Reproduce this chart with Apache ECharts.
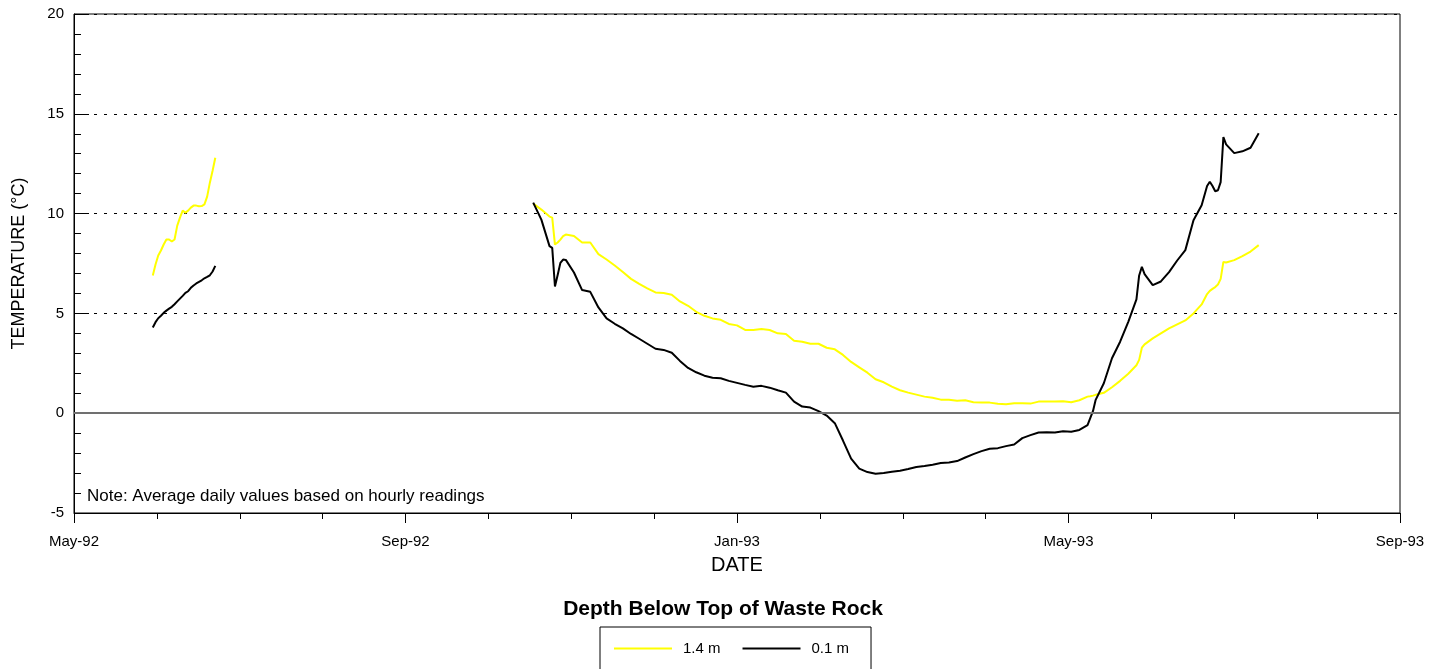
<!DOCTYPE html>
<html><head><meta charset="utf-8">
<script src="https://cdn.jsdelivr.net/npm/echarts@6/dist/echarts.min.js"></script>
<style>html,body{margin:0;padding:0;background:#fff}#c{width:1446px;height:669px}</style>
</head><body><div id="c"></div>
<script>
// ---- data ----
const datesEarly = ['1992-05-30','1992-05-31','1992-06-01','1992-06-02','1992-06-03','1992-06-04','1992-06-05','1992-06-06',
  '1992-06-07','1992-06-08','1992-06-09','1992-06-10','1992-06-11','1992-06-12','1992-06-13','1992-06-14',
  '1992-06-15','1992-06-16','1992-06-17','1992-06-18','1992-06-19','1992-06-20','1992-06-21','1992-06-22'];
const depth14Early = [6.9,7.45,7.9,8.15,8.45,8.7,8.7,8.6,8.7,9.4,9.8,10.15,10.05,10.15,10.3,10.4,10.4,10.37,10.38,10.46,10.85,11.55,12.15,12.8];
const depth01Early = [4.29,4.56,4.76,4.88,5.03,5.14,5.24,5.33,5.46,5.6,5.74,5.88,6.03,6.11,6.28,6.4,6.5,6.58,6.66,6.76,6.83,6.91,7.1,7.38];

const datesLate = [
  '1992-10-17','1992-10-20','1992-10-23','1992-10-24','1992-10-25','1992-10-26','1992-10-27','1992-10-28','1992-10-29',
  '1992-11-01','1992-11-04','1992-11-07','1992-11-10','1992-11-13','1992-11-16','1992-11-19','1992-11-22','1992-11-25','1992-11-28',
  '1992-12-01','1992-12-04','1992-12-07','1992-12-10','1992-12-13','1992-12-16','1992-12-19','1992-12-22','1992-12-25','1992-12-28','1992-12-31',
  '1993-01-03','1993-01-06','1993-01-09','1993-01-12','1993-01-15','1993-01-18','1993-01-21','1993-01-24','1993-01-27','1993-01-30',
  '1993-02-02','1993-02-05','1993-02-08','1993-02-11','1993-02-14','1993-02-17','1993-02-20','1993-02-23','1993-02-26',
  '1993-03-01','1993-03-04','1993-03-07','1993-03-10','1993-03-13','1993-03-16','1993-03-19','1993-03-22','1993-03-25','1993-03-28','1993-03-31',
  '1993-04-03','1993-04-06','1993-04-09','1993-04-12','1993-04-15','1993-04-18','1993-04-21','1993-04-24','1993-04-27','1993-04-30',
  '1993-05-03','1993-05-06','1993-05-09','1993-05-10','1993-05-11','1993-05-12','1993-05-15','1993-05-18','1993-05-21','1993-05-24','1993-05-27','1993-05-28','1993-05-29','1993-05-30',
  '1993-06-02','1993-06-05','1993-06-08','1993-06-11','1993-06-14','1993-06-17','1993-06-20','1993-06-22','1993-06-23','1993-06-24','1993-06-25','1993-06-26','1993-06-27','1993-06-28','1993-06-29',
  '1993-07-02','1993-07-05','1993-07-08','1993-07-11'];
const depth14Late = [
  10.5,10.2,9.85,9.8,8.45,8.55,8.7,8.87,8.95,
  8.88,8.55,8.55,7.97,7.7,7.4,7.07,6.73,6.48,6.25,
  6.05,6.02,5.93,5.6,5.38,5.08,4.88,4.75,4.68,4.47,4.4,
  4.17,4.17,4.22,4.17,4.0,3.97,3.63,3.58,3.48,3.48,
  3.28,3.2,2.92,2.57,2.3,2.03,1.7,1.55,1.33,
  1.15,1.03,0.93,0.83,0.77,0.68,0.67,0.62,0.65,0.55,0.53,
  0.53,0.47,0.45,0.5,0.5,0.48,0.58,0.58,0.58,0.6,
  0.55,0.65,0.83,0.85,0.88,0.92,1.02,1.3,1.62,1.98,2.4,2.67,3.28,3.45,
  3.75,4.0,4.25,4.45,4.65,5.0,5.45,5.97,6.13,6.23,6.32,6.45,6.73,7.58,7.55,
  7.67,7.87,8.1,8.42];
const depth01Late = [
  10.55,9.7,8.37,8.28,6.35,6.92,7.53,7.7,7.68,
  7.05,6.17,6.08,5.3,4.75,4.48,4.25,3.97,3.73,3.48,
  3.23,3.17,3.03,2.62,2.27,2.05,1.88,1.78,1.75,1.62,1.52,
  1.42,1.33,1.37,1.28,1.15,1.03,0.58,0.33,0.28,0.1,
  -0.12,-0.5,-1.37,-2.28,-2.78,-2.95,-3.03,-3.0,-2.93,
  -2.88,-2.8,-2.7,-2.65,-2.58,-2.5,-2.47,-2.4,-2.22,-2.05,-1.9,
  -1.78,-1.75,-1.65,-1.57,-1.25,-1.1,-0.97,-0.95,-0.97,-0.9,
  -0.93,-0.84,-0.6,-0.25,0.1,0.67,1.5,2.75,3.58,4.58,5.7,6.9,7.33,6.97,
  6.42,6.6,7.07,7.65,8.17,9.67,10.42,11.38,11.6,11.38,11.12,11.17,11.58,13.83,13.47,
  13.03,13.12,13.3,14.03];
const gapDate = '1992-08-15';
const seriesNames = ['1.4 m', '0.1 m'];
const axisStart = '1992-05-01';
const axisEnd = '1993-09-01';
const xTickLabels = ['May-92', 'Sep-92', 'Jan-93', 'May-93', 'Sep-93'];
const minorPerMajor = 4;
const yMin = -5, yMax = 20, yStep = 5;

// ---- build ----
const FONT = 'Liberation Sans, Arial, Helvetica, sans-serif';
const ts = s => echarts.number.parseDate(s).getTime();
const t0 = ts(axisStart);
const t1 = ts(axisEnd);
const nMajor = xTickLabels.length - 1;
const majorStep = (t1 - t0) / nMajor;
const majorVals = xTickLabels.map((_, i) => t0 + i * majorStep);
const minorVals = [];
for (let i = 0; i <= nMajor * minorPerMajor; i++) minorVals.push(t0 + i * majorStep / minorPerMajor);
const yMajorVals = [];
for (let v = yMin; v <= yMax; v += yStep) yMajorVals.push(v);

function build(early, late) {
  const out = datesEarly.map((d, i) => [ts(d), early[i]]);
  out.push([ts(gapDate), '-']);
  return out.concat(datesLate.map((d, i) => [ts(d), late[i]]));
}

const chart = echarts.init(document.getElementById('c'), null, {renderer: 'canvas'});
chart.setOption({
  animation: false,
  backgroundColor: '#fff',
  textStyle: {fontFamily: FONT},
  title: {
    text: 'Depth Below Top of Waste Rock', left: 'center', top: 599, padding: 0,
    textStyle: {fontFamily: FONT, fontSize: 21, fontWeight: 'bold', color: '#000'}
  },
  legend: {
    data: seriesNames, left: 600, top: 627, orient: 'horizontal',
    padding: [14, 22, 24, 14], borderColor: '#000', borderWidth: 1,
    itemWidth: 58, itemHeight: 2, itemGap: 22,
    icon: 'path://M0,0H58V2H0Z',
    textStyle: {fontFamily: FONT, fontSize: 15, color: '#000', padding: [0, 0, 0, 6]}
  },
  graphic: [{
    type: 'text', left: 87, top: 488,
    style: {text: 'Note: Average daily values based on hourly readings', font: '17px ' + FONT, fill: '#000'}
  }],
  grid: {left: 74, right: 46, top: 14, bottom: 156, show: true, borderColor: '#000', borderWidth: 1, backgroundColor: 'transparent'},
  xAxis: [{
    type: 'value', min: t0, max: t1,
    name: 'DATE', nameLocation: 'middle', nameGap: 42,
    nameTextStyle: {fontFamily: FONT, fontSize: 20, color: '#000'},
    axisLine: {show: true, onZero: false, lineStyle: {color: '#000', width: 1}},
    axisTick: {show: true, length: 10, lineStyle: {color: '#000'}, customValues: majorVals},
    axisLabel: {
      show: true, customValues: majorVals, margin: 21, fontFamily: FONT, fontSize: 15, color: '#000',
      formatter: function (v) { return xTickLabels[Math.round((v - t0) / majorStep)] || ''; }
    },
    splitLine: {show: false}
  }, {
    type: 'value', min: t0, max: t1, position: 'bottom',
    axisLine: {show: false, onZero: false},
    axisTick: {show: true, length: 6, lineStyle: {color: '#000'}, customValues: minorVals},
    axisLabel: {show: false},
    splitLine: {show: false}
  }],
  yAxis: [{
    type: 'value', min: yMin, max: yMax, interval: yStep,
    name: 'TEMPERATURE (°C)', nameLocation: 'middle', nameGap: 46,
    nameTextStyle: {fontFamily: FONT, fontSize: 18, color: '#000'},
    axisLine: {show: true, onZero: false, lineStyle: {color: '#000', width: 1}},
    axisTick: {show: true, inside: true, length: 7, lineStyle: {color: '#000'}},
    minorTick: {show: true, splitNumber: 5, length: 7, lineStyle: {color: '#000'}},
    axisLabel: {fontFamily: FONT, fontSize: 15, color: '#000', margin: 10},
    splitLine: {show: true, lineStyle: {color: '#000', width: 1, type: [3, 7]}}
  }, {
    type: 'value', min: yMin, max: yMax, position: 'left',
    axisLine: {show: false, onZero: false},
    axisTick: {show: true, inside: true, length: 15, lineStyle: {color: '#000', width: 1}, customValues: yMajorVals},
    axisLabel: {show: false},
    splitLine: {show: false}
  }],
  series: [{
    name: 'zero', type: 'line', data: [], z: 1, silent: true,
    markLine: {
      silent: true, symbol: ['none', 'none'], label: {show: false},
      lineStyle: {color: '#707070', width: 2, type: 'solid'},
      data: [{yAxis: 0}]
    }
  }, {
    name: seriesNames[0], type: 'line', xAxisIndex: 0, yAxisIndex: 0, data: build(depth14Early, depth14Late),
    showSymbol: false, symbol: 'none', connectNulls: false, z: 3,
    lineStyle: {color: '#ffff00', width: 2}, itemStyle: {color: '#ffff00'}
  }, {
    name: seriesNames[1], type: 'line', xAxisIndex: 0, yAxisIndex: 0, data: build(depth01Early, depth01Late),
    showSymbol: false, symbol: 'none', connectNulls: false, z: 4,
    lineStyle: {color: '#000', width: 2}, itemStyle: {color: '#000'}
  }]
});
</script>
</body></html>
